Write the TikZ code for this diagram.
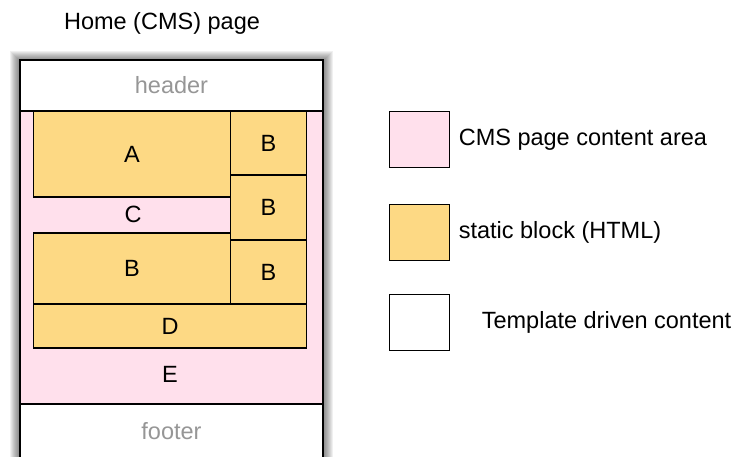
\documentclass[tikz,border=0pt]{standalone}
\usepackage{fontspec}
\setmainfont{Liberation Sans}
\usetikzlibrary{positioning}
\definecolor{cmspink}{RGB}{255,224,236}
\definecolor{blockorange}{RGB}{253,217,132}
\definecolor{labelgray}{RGB}{150,150,150}
\tikzset{node distance=10pt}

\begin{document}
\begin{tikzpicture}[x=1pt,y=-1pt,
  font=\fontsize{23.5}{27}\selectfont,
  area/.style={draw,line width=1.5pt,shape=rectangle,anchor=north west,inner sep=0pt,outer sep=0pt},
  region/.style={area,fill=white,text=labelgray},
  content/.style={area,fill=cmspink},
  block/.style={area,fill=blockorange,line width=1.1pt},
  swatch/.style={draw,line width=1.1pt,minimum width=60pt,minimum height=56pt,inner sep=0pt,anchor=north west},
  legend/.style={inner sep=0pt}]

  \useasboundingbox (0,0) rectangle (735,456);

  % Title
  \node (title) at (162,23) {Home (CMS) page};

  % Soft shadow round the page
  \foreach \s in {1,...,10}
    \fill[black,opacity=0.06] (20-\s,61-\s) rectangle (323+\s,462+\s);

  % The page: header, content area, footer
  \node[region,minimum width=303pt,minimum height=51pt] (header) at (20,60) {header};
  \node[content,minimum width=303pt,minimum height=293pt] (cms) at (20,111) {};
  \node[region,minimum width=303pt,minimum height=56pt] (footer) at (20,404) {\raisebox{2.5pt}{footer}};

  % Static blocks inside the content area
  \node[block,minimum width=197pt,minimum height=86pt] (boxA) at (33.5,111) {A};
  \node[block,minimum width=76pt,minimum height=64pt] (boxB1) at (230.5,111) {B};
  \node[block,minimum width=76pt,minimum height=65pt] (boxB2) at (230.5,175) {B};
  \node[block,minimum width=76pt,minimum height=64pt] (boxB3) at (230.5,240) {B};
  \node[block,minimum width=197pt,minimum height=71pt] (boxB4) at (33.5,233) {B};
  \node[block,minimum width=273pt,minimum height=44pt] (boxD) at (33.5,304) {D};

  % Free text in the content area
  \node (labelC) at (133,214) {C};
  \node (labelE) at (170,374) {E};

  % Legend
  \node[swatch,fill=cmspink] (keycms) at (388.5,111) {};
  \node[swatch,fill=blockorange] (keyblock) at (388.5,203.5) {};
  \node[swatch,fill=white] (keytemplate) at (388.5,294) {};
  \node[legend,right=9pt of keycms] {CMS page content area};
  \node[legend,right=9pt of keyblock] {static block (HTML)};
  \node[legend,right=32pt of keytemplate] {Template driven content};

\end{tikzpicture}
\end{document}
